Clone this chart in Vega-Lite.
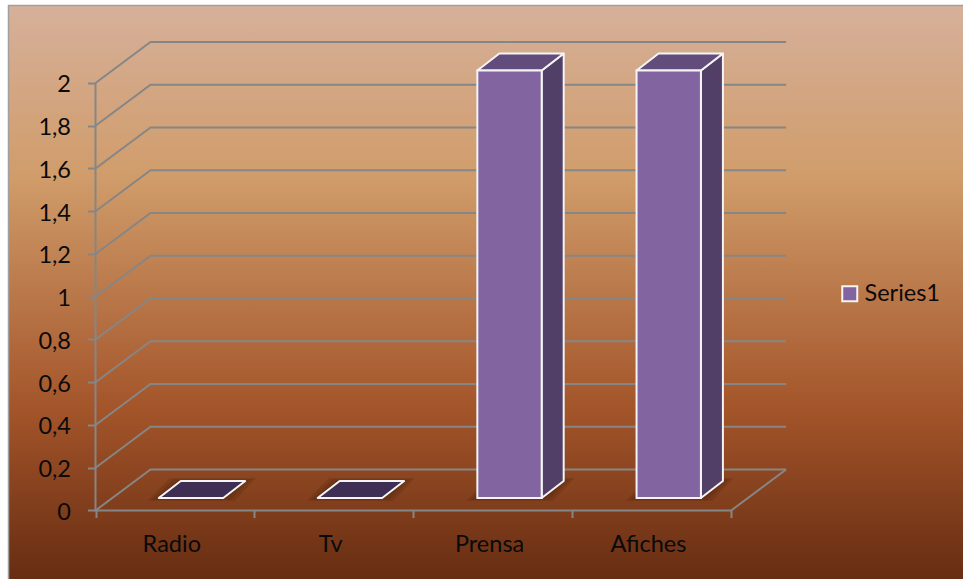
{
  "$schema": "https://vega.github.io/schema/vega-lite/v6.json",
  "width": 963,
  "height": 579,
  "padding": 0,
  "autosize": "none",
  "background": "white",
  "view": {"stroke": null},
  "config": {
    "axis": {"grid": false, "domain": false, "title": null},
    "font": "Lato"
  },
  "datasets": {
    "levels": [
      {"level": 0, "x": 0, "y": 0}, {"level": 0, "x": 0.3461, "y": 0.1918}, {"level": 0, "x": 4.3461, "y": 0.1918},
      {"level": 0.2, "x": 0, "y": 0.2}, {"level": 0.2, "x": 0.3461, "y": 0.3918}, {"level": 0.2, "x": 4.3461, "y": 0.3918},
      {"level": 0.4, "x": 0, "y": 0.4}, {"level": 0.4, "x": 0.3461, "y": 0.5918}, {"level": 0.4, "x": 4.3461, "y": 0.5918},
      {"level": 0.6, "x": 0, "y": 0.6}, {"level": 0.6, "x": 0.3461, "y": 0.7918}, {"level": 0.6, "x": 4.3461, "y": 0.7918},
      {"level": 0.8, "x": 0, "y": 0.8}, {"level": 0.8, "x": 0.3461, "y": 0.9918}, {"level": 0.8, "x": 4.3461, "y": 0.9918},
      {"level": 1, "x": 0, "y": 1}, {"level": 1, "x": 0.3461, "y": 1.1918}, {"level": 1, "x": 4.3461, "y": 1.1918},
      {"level": 1.2, "x": 0, "y": 1.2}, {"level": 1.2, "x": 0.3461, "y": 1.3918}, {"level": 1.2, "x": 4.3461, "y": 1.3918},
      {"level": 1.4, "x": 0, "y": 1.4}, {"level": 1.4, "x": 0.3461, "y": 1.5918}, {"level": 1.4, "x": 4.3461, "y": 1.5918},
      {"level": 1.6, "x": 0, "y": 1.6}, {"level": 1.6, "x": 0.3461, "y": 1.7918}, {"level": 1.6, "x": 4.3461, "y": 1.7918},
      {"level": 1.8, "x": 0, "y": 1.8}, {"level": 1.8, "x": 0.3461, "y": 1.9918}, {"level": 1.8, "x": 4.3461, "y": 1.9918},
      {"level": 2, "x": 0, "y": 2}, {"level": 2, "x": 0.3461, "y": 2.1918}, {"level": 2, "x": 4.3461, "y": 2.1918}
    ],
    "frame": [
      {"step": 1, "x": 0, "y": 2},
      {"step": 2, "x": 0, "y": 0},
      {"step": 3, "x": 4, "y": 0},
      {"step": 4, "x": 4.3461, "y": 0.1918}
    ],
    "bars": [
      {"categoria": "Radio", "valor": 0, "serie": "Series1", "left": 0.398, "right": 0.804, "base": 0.0585, "top": 0.0585},
      {"categoria": "Tv", "valor": 0, "serie": "Series1", "left": 1.398, "right": 1.804, "base": 0.0585, "top": 0.0585},
      {"categoria": "Prensa", "valor": 2, "serie": "Series1", "left": 2.403, "right": 2.808, "base": 0.0585, "top": 2.0585},
      {"categoria": "Afiches", "valor": 2, "serie": "Series1", "left": 3.405, "right": 3.81, "base": 0.0585, "top": 2.0585}
    ],
    "caps": [
      {"categoria": "Radio", "valor": 0, "y": 0.0585, "left": 0.398, "right": 0.804},
      {"categoria": "Radio", "valor": 0, "y": 0.138, "left": 0.5365, "right": 0.9425},
      {"categoria": "Tv", "valor": 0, "y": 0.0585, "left": 1.398, "right": 1.804},
      {"categoria": "Tv", "valor": 0, "y": 0.138, "left": 1.5365, "right": 1.9425},
      {"categoria": "Prensa", "valor": 2, "y": 2.0585, "left": 2.403, "right": 2.808},
      {"categoria": "Prensa", "valor": 2, "y": 2.138, "left": 2.5415, "right": 2.9465},
      {"categoria": "Afiches", "valor": 2, "y": 2.0585, "left": 3.405, "right": 3.81},
      {"categoria": "Afiches", "valor": 2, "y": 2.138, "left": 3.5435, "right": 3.9485}
    ],
    "sides": [
      {"categoria": "Prensa", "x": 2.808, "low": 0.0585, "high": 2.0585},
      {"categoria": "Prensa", "x": 2.9465, "low": 0.138, "high": 2.138},
      {"categoria": "Afiches", "x": 3.81, "low": 0.0585, "high": 2.0585},
      {"categoria": "Afiches", "x": 3.9485, "low": 0.138, "high": 2.138}
    ],
    "shadows": [
      {"ring": "Radio1", "y": 0.0535, "left": 0.379, "right": 0.823}, {"ring": "Radio1", "y": 0.143, "left": 0.5175, "right": 0.9615},
      {"ring": "Radio2", "y": 0.0495, "left": 0.354, "right": 0.848}, {"ring": "Radio2", "y": 0.147, "left": 0.4925, "right": 0.9865},
      {"ring": "Radio3", "y": 0.0445, "left": 0.329, "right": 0.873}, {"ring": "Radio3", "y": 0.152, "left": 0.4675, "right": 1.0115},
      {"ring": "Tv1", "y": 0.0535, "left": 1.379, "right": 1.823}, {"ring": "Tv1", "y": 0.143, "left": 1.5175, "right": 1.9615},
      {"ring": "Tv2", "y": 0.0495, "left": 1.354, "right": 1.848}, {"ring": "Tv2", "y": 0.147, "left": 1.4925, "right": 1.9865},
      {"ring": "Tv3", "y": 0.0445, "left": 1.329, "right": 1.873}, {"ring": "Tv3", "y": 0.152, "left": 1.4675, "right": 2.0115},
      {"ring": "Prensa1", "y": 0.0535, "left": 2.384, "right": 2.827}, {"ring": "Prensa1", "y": 0.143, "left": 2.5225, "right": 2.9655},
      {"ring": "Prensa2", "y": 0.0495, "left": 2.359, "right": 2.852}, {"ring": "Prensa2", "y": 0.147, "left": 2.4975, "right": 2.9905},
      {"ring": "Prensa3", "y": 0.0445, "left": 2.334, "right": 2.877}, {"ring": "Prensa3", "y": 0.152, "left": 2.4725, "right": 3.0155},
      {"ring": "Afiches1", "y": 0.0535, "left": 3.386, "right": 3.829}, {"ring": "Afiches1", "y": 0.143, "left": 3.5245, "right": 3.9675},
      {"ring": "Afiches2", "y": 0.0495, "left": 3.361, "right": 3.854}, {"ring": "Afiches2", "y": 0.147, "left": 3.4995, "right": 3.9925},
      {"ring": "Afiches3", "y": 0.0445, "left": 3.336, "right": 3.879}, {"ring": "Afiches3", "y": 0.152, "left": 3.4745, "right": 4.0175}
    ],
    "names": [
      {"categoria": "Radio", "x": 0.48, "y": -0.194},
      {"categoria": "Tv", "x": 1.48, "y": -0.194},
      {"categoria": "Prensa", "x": 2.48, "y": -0.194},
      {"categoria": "Afiches", "x": 3.48, "y": -0.194}
    ]
  },
  "layer": [
    {
      "description": "Chart area with the vertical wood-toned gradient; the shared axes are declared here",
      "data": {"values": [{"x0": -0.5475, "x1": 5.4594, "y0": -0.3205, "y1": 2.3626}]},
      "mark": {
        "type": "rect",
        "fill": {
          "gradient": "linear", "x1": 0, "y1": 0, "x2": 0, "y2": 1,
          "stops": [
            {"offset": 0, "color": "#d6b09a"},
            {"offset": 0.3, "color": "#d09c6a"},
            {"offset": 0.7, "color": "#a4552a"},
            {"offset": 1, "color": "#672d12"}
          ]
        }
      },
      "encoding": {
        "x": {"field": "x0", "type": "quantitative", "scale": {"domain": [-0.60101, 5.45941], "nice": false, "zero": false},
          "axis": {"orient": "bottom", "zindex": 1, "offset": -68.5, "values": [0, 1, 2, 3, 4], "labels": false, "ticks": true, "tickSize": 7, "tickWidth": 2, "tickColor": "#868686"}},
        "x2": {"field": "x1"},
        "y": {"field": "y0", "type": "quantitative", "scale": {"domain": [-0.32047, 2.3883], "nice": false, "zero": false},
          "axis": {"orient": "left", "zindex": 1, "offset": -95.5, "values": [0, 0.2, 0.4, 0.6, 0.8, 1, 1.2, 1.4, 1.6, 1.8, 2],
            "labelExpr": "replace(toString(datum.value), '.', ',')", "tickSize": 8, "tickWidth": 2, "tickColor": "#868686",
            "labelFontSize": 23.5, "labelColor": "#0a0a0a", "labelPadding": 17, "labelOffset": 2, "labelFont": "Lato"}},
        "y2": {"field": "y1"}
      }
    },
    {
      "description": "Thin border along the top and left of the chart area",
      "data": {"values": [{"step": 1, "x": -0.5475, "y": -0.3205}, {"step": 2, "x": -0.5475, "y": 2.3626}, {"step": 3, "x": 5.4594, "y": 2.3626}]},
      "mark": {"type": "line", "stroke": "#a0a0a0", "strokeWidth": 1.5},
      "encoding": {
        "x": {"field": "x", "type": "quantitative", "scale": {"domain": [-0.60101, 5.45941], "nice": false, "zero": false}},
        "y": {"field": "y", "type": "quantitative", "scale": {"domain": [-0.32047, 2.3883], "nice": false, "zero": false}},
        "order": {"field": "step"}
      }
    },
    {
      "description": "Gridlines running along the side wall and back wall",
      "data": {"name": "levels"},
      "mark": {"type": "line", "stroke": "#868686", "strokeWidth": 2},
      "encoding": {
        "x": {"field": "x", "type": "quantitative", "scale": {"domain": [-0.60101, 5.45941], "nice": false, "zero": false}},
        "y": {"field": "y", "type": "quantitative", "scale": {"domain": [-0.32047, 2.3883], "nice": false, "zero": false}},
        "detail": {"field": "level"}
      }
    },
    {
      "description": "Front edges of the wall and floor",
      "data": {"name": "frame"},
      "mark": {"type": "line", "stroke": "#868686", "strokeWidth": 2},
      "encoding": {
        "x": {"field": "x", "type": "quantitative", "scale": {"domain": [-0.60101, 5.45941], "nice": false, "zero": false}},
        "y": {"field": "y", "type": "quantitative", "scale": {"domain": [-0.32047, 2.3883], "nice": false, "zero": false}},
        "order": {"field": "step"}
      }
    },
    {
      "description": "Soft shadows on the floor built from nested translucent rings",
      "data": {"name": "shadows"},
      "mark": {"type": "area", "orient": "horizontal", "fill": "#3a1806", "opacity": 0.16},
      "encoding": {
        "y": {"field": "y", "type": "quantitative", "scale": {"domain": [-0.32047, 2.3883], "nice": false, "zero": false}},
        "x": {"field": "left", "type": "quantitative", "scale": {"domain": [-0.60101, 5.45941], "nice": false, "zero": false}},
        "x2": {"field": "right"},
        "detail": {"field": "ring"}
      }
    },
    {
      "description": "Right-hand faces of the non-zero bars",
      "data": {"name": "sides"},
      "mark": {"type": "area", "orient": "vertical", "fill": "#513f68", "stroke": "#f4f4f4", "strokeWidth": 2, "strokeJoin": "round"},
      "encoding": {
        "x": {"field": "x", "type": "quantitative", "scale": {"domain": [-0.60101, 5.45941], "nice": false, "zero": false}},
        "y": {"field": "low", "type": "quantitative", "scale": {"domain": [-0.32047, 2.3883], "nice": false, "zero": false}},
        "y2": {"field": "high"},
        "detail": {"field": "categoria"}
      }
    },
    {
      "description": "Top faces of the non-zero bars",
      "data": {"name": "caps"},
      "transform": [{"filter": "datum.valor > 0"}],
      "mark": {"type": "area", "orient": "horizontal", "fill": "#614c7c", "stroke": "#f4f4f4", "strokeWidth": 2, "strokeJoin": "round"},
      "encoding": {
        "y": {"field": "y", "type": "quantitative", "scale": {"domain": [-0.32047, 2.3883], "nice": false, "zero": false}},
        "x": {"field": "left", "type": "quantitative", "scale": {"domain": [-0.60101, 5.45941], "nice": false, "zero": false}},
        "x2": {"field": "right"},
        "detail": {"field": "categoria"}
      }
    },
    {
      "description": "Flat footprints of the zero-valued bars",
      "data": {"name": "caps"},
      "transform": [{"filter": "datum.valor === 0"}],
      "mark": {"type": "area", "orient": "horizontal", "fill": "#3e2e54", "stroke": "#f4f4f4", "strokeWidth": 2, "strokeJoin": "round"},
      "encoding": {
        "y": {"field": "y", "type": "quantitative", "scale": {"domain": [-0.32047, 2.3883], "nice": false, "zero": false}},
        "x": {"field": "left", "type": "quantitative", "scale": {"domain": [-0.60101, 5.45941], "nice": false, "zero": false}},
        "x2": {"field": "right"},
        "detail": {"field": "categoria"}
      }
    },
    {
      "description": "Front faces of the non-zero bars, which also carry the legend",
      "data": {"name": "bars"},
      "transform": [{"filter": "datum.valor > 0"}],
      "mark": {"type": "rect", "stroke": "#f4f4f4", "strokeWidth": 2},
      "encoding": {
        "x": {"field": "left", "type": "quantitative", "scale": {"domain": [-0.60101, 5.45941], "nice": false, "zero": false}},
        "x2": {"field": "right"},
        "y": {"field": "base", "type": "quantitative", "scale": {"domain": [-0.32047, 2.3883], "nice": false, "zero": false}},
        "y2": {"field": "top"},
        "color": {
          "field": "serie", "type": "nominal",
          "scale": {"domain": ["Series1"], "range": ["#8265a0"]},
          "legend": {
            "orient": "none", "legendX": 838, "legendY": 282, "title": null,
            "symbolType": "square", "symbolSize": 225, "symbolStrokeColor": "#f4f4f4", "symbolStrokeWidth": 2,
            "labelFontSize": 23.5, "labelFont": "Lato", "labelColor": "#0a0a0a", "labelOffset": 3
          }
        }
      }
    },
    {
      "description": "Category names under the floor",
      "data": {"name": "names"},
      "mark": {"type": "text", "fontSize": 23.5, "font": "Lato", "fill": "#0a0a0a", "align": "center", "baseline": "alphabetic"},
      "encoding": {
        "x": {"field": "x", "type": "quantitative", "scale": {"domain": [-0.60101, 5.45941], "nice": false, "zero": false}},
        "y": {"field": "y", "type": "quantitative", "scale": {"domain": [-0.32047, 2.3883], "nice": false, "zero": false}},
        "text": {"field": "categoria"}
      }
    }
  ]
}
